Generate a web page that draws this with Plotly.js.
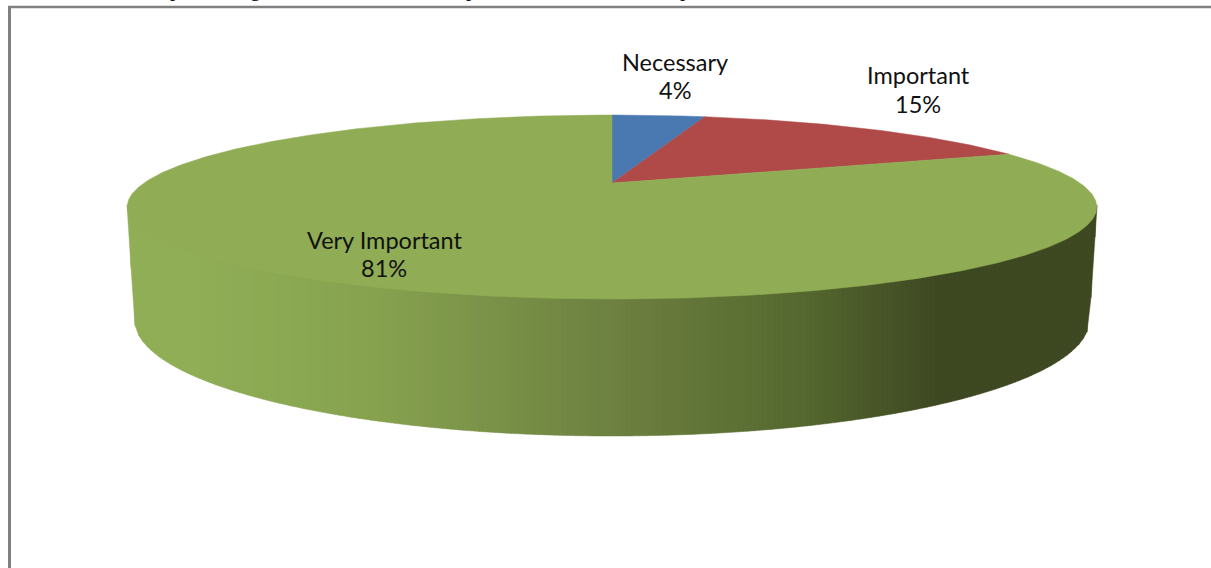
<!DOCTYPE html>
<html>
<head>
<meta charset="utf-8">
<script src="https://cdn.plot.ly/plotly-3.0.1.min.js"></script>
<style>html,body{margin:0;padding:0;background:#fff;overflow:hidden}</style>
</head>
<body>
<div id="chart" style="width:1211px;height:568px"></div>
<script>
// Survey shares
const categories = ['Necessary', 'Important', 'Very Important'];
const shares = [4, 15, 81];
const sliceColors = ['#4A79B1', '#AF4A48', '#90AD55'];
const labelX = [675, 918, 384];
const nameY = [62, 75, 240];
const valueY = [90, 104, 268];

// Side wall shading: horizontal position and colour
const shadeStops = [127, 190, 375, 620, 803, 938, 1097];
const shadeColors = [[144,174,86],[144,174,86],[134,162,79],[109,128,64],[85,104,47],[62,72,34],[62,72,34]];

// Fragments of the line of running text above the frame
const runningGlyphs = ['p', 'g', 'p', 'p'];
const runningGlyphX = [175, 255, 471, 685];

// Perspective disc: circle seen from above, apex at (cx, cy)
const cx = 612, cy = 183, A = 468, B = 85.7, K = 0.261;
const project = (t) => {
  const X = Math.sin(t), Y = Math.cos(t), w = 1 + K * Y;
  return [cx + A * X / w, cy - B * Y / w];
};
// Outlines used by the wall: top rim and bottom rim
const rimTop = {cy: 207, a: 485, b: 92};
const rimBottom = {cy: 320, a: 477.5, b: 116};

function rimY(x) {
  const f = (rim) => rim.cy + rim.b * Math.sqrt(Math.max(0, 1 - ((x - cx) / rim.a) ** 2));
  const top = f(rimTop);
  let bottom;
  if (Math.abs(x - cx) < rimBottom.a) {
    bottom = f(rimBottom);
  } else {
    const s = (rimTop.a - Math.abs(x - cx)) / (rimTop.a - rimBottom.a);
    bottom = rimTop.cy + s * (rimBottom.cy - rimTop.cy);
  }
  return [top, bottom];
}

function shade(x) {
  let i = 0;
  while (i < shadeStops.length - 2 && x > shadeStops[i + 1]) i++;
  const s = Math.min(1, Math.max(0, (x - shadeStops[i]) / (shadeStops[i + 1] - shadeStops[i])));
  const c = shadeColors[i].map((v, j) => Math.round(v + s * (shadeColors[i + 1][j] - v)));
  return `rgb(${c.join(',')})`;
}

const traces = [];

// Wall as narrow vertical bands
const bandWidth = 4;
for (let x = cx - rimTop.a; x < cx + rimTop.a; x += bandWidth) {
  const x1 = Math.min(x + bandWidth, cx + rimTop.a);
  const [t0, b0] = rimY(x), [t1, b1] = rimY(x1);
  const col = shade((x + x1) / 2);
  traces.push({
    type: 'scatter', mode: 'lines', fill: 'toself', fillcolor: col,
    x: [x, x1, x1, x, x], y: [t0 - 2, t1 - 2, b1, b0, t0 - 2],
    line: {color: col, width: 0.5}, hoverinfo: 'skip', showlegend: false
  });
}

// Top face, one wedge per category
const total = shares.reduce((a, b) => a + b, 0);
let start = 0;
shares.forEach((v, i) => {
  const end = start + v / total * 2 * Math.PI;
  const xs = [cx], ys = [cy];
  const n = Math.max(8, Math.round(v * 6));
  for (let k = 0; k <= n; k++) {
    const p = project(start + (end - start) * k / n);
    xs.push(p[0]); ys.push(p[1]);
  }
  xs.push(cx); ys.push(cy);
  traces.push({
    type: 'scatter', mode: 'lines', fill: 'toself', fillcolor: sliceColors[i],
    x: xs, y: ys, line: {color: sliceColors[i], width: 0.5},
    name: categories[i], hoverinfo: 'skip', showlegend: false
  });
  start = end;
});

const labelFont = {family: 'Lato, sans-serif', size: 23.5, color: '#111'};
const annotations = [];
categories.forEach((c, i) => {
  annotations.push({x: labelX[i], y: nameY[i], xref: 'x', yref: 'y', text: c, showarrow: false, font: labelFont});
  annotations.push({x: labelX[i], y: valueY[i], xref: 'x', yref: 'y', text: `${shares[i]}%`, showarrow: false, font: labelFont});
});

runningGlyphs.forEach((g, i) => annotations.push({
  x: runningGlyphX[i], y: 3, xref: 'x', yref: 'y', yanchor: 'bottom',
  text: g, showarrow: false,
  font: {family: '"Liberation Serif", serif', size: 21, color: '#000'}
}));

const layout = {
  width: 1211, height: 568,
  margin: {l: 0, r: 0, t: 0, b: 0},
  paper_bgcolor: '#fff', plot_bgcolor: '#fff',
  xaxis: {range: [0, 1211], visible: false, fixedrange: true},
  yaxis: {range: [568, 0], visible: false, fixedrange: true},
  showlegend: false,
  annotations,
  shapes: [
    {type: 'line', xref: 'x', yref: 'y', x0: 8, x1: 1211, y0: 7, y1: 7, line: {color: '#808080', width: 2.5}},
    {type: 'line', xref: 'x', yref: 'y', x0: 9.5, x1: 9.5, y0: 6, y1: 568, line: {color: '#808080', width: 3}}
  ]
};

Plotly.newPlot('chart', traces, layout, {staticPlot: true, displayModeBar: false});
</script>
</body>
</html>
